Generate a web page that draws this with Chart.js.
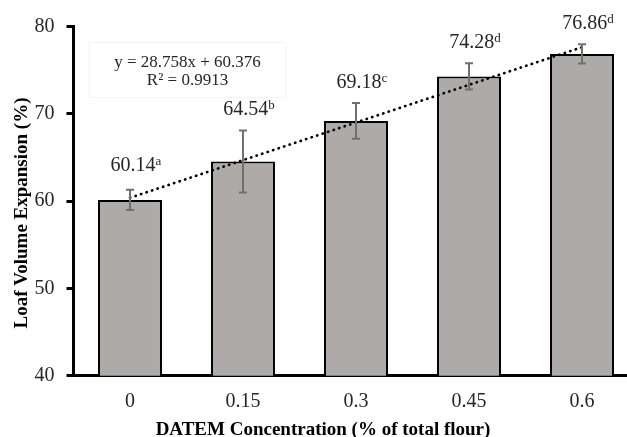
<!DOCTYPE html>
<html>
<head>
<meta charset="utf-8">
<title>Loaf Volume Expansion</title>
<script src="https://cdn.jsdelivr.net/npm/chart.js@4.4.1/dist/chart.umd.min.js"></script>
<style>
    html, body { margin: 0; padding: 0; background: #fff; overflow: hidden; }
    #wrap { width: 627px; height: 437px; overflow: hidden; }
    canvas { display: block; }
</style>
</head>
<body>
<div id="wrap">
    <canvas id="myChart" width="640" height="437"></canvas>
</div>
<script>
// values
const categories = ['0', '0.15', '0.3', '0.45', '0.6'];
const expansion = [60.14, 64.54, 69.18, 74.28, 76.86];
const errors = [1.15, 3.55, 2.05, 1.5, 1.1];
const letters = ['a', 'b', 'c', 'd', 'd'];
const trend = [60.38, null, null, null, 77.63];   // ends of the linear fit
const yTicks = [40, 50, 60, 70, 80];
const equation = ['y = 28.758x + 60.376', 'R² = 0.9913'];
const xTitle = 'DATEM Concentration (% of total flour)';
const yTitle = 'Loaf Volume Expansion (%)';

const serif = '"Liberation Serif", "Times New Roman", serif';

// error bars, value labels, equation box and axis titles
const extras = {
    id: 'extras',
    afterDatasetsDraw(chart) {
        let ctx = chart.ctx;
        let y = chart.scales.y;
        let meta = chart.getDatasetMeta(0);
        ctx.save();
        meta.data.forEach((bar, i) => {
            let top = y.getPixelForValue(expansion[i] + errors[i]);
            let bot = y.getPixelForValue(expansion[i] - errors[i]);
            ctx.strokeStyle = '#707070';
            ctx.lineWidth = 2;
            ctx.beginPath();
            ctx.moveTo(bar.x, top); ctx.lineTo(bar.x, bot);
            ctx.moveTo(bar.x - 4, top); ctx.lineTo(bar.x + 4, top);
            ctx.moveTo(bar.x - 4, bot); ctx.lineTo(bar.x + 4, bot);
            ctx.stroke();

            // label like 60.14 with superscript letter
            let main = expansion[i].toFixed(2);
            ctx.font = '20px ' + serif;
            let w1 = ctx.measureText(main).width;
            ctx.font = '13px ' + serif;
            let w2 = ctx.measureText(letters[i]).width;
            let x0 = bar.x - (w1 + w2) / 2 + 6;
            let base = top - (i === 0 ? 19 : 15);
            ctx.fillStyle = '#262626';
            ctx.textAlign = 'left';
            ctx.textBaseline = 'alphabetic';
            ctx.font = '20px ' + serif;
            ctx.fillText(main, x0, base);
            ctx.font = '13px ' + serif;
            ctx.fillText(letters[i], x0 + w1, base - 6);
        });
        ctx.restore();
    },
    afterDraw(chart) {
        let ctx = chart.ctx;
        let area = chart.chartArea;
        ctx.save();
        // equation box
        let bx = area.left + 15, by = area.top + 15.5;
        ctx.fillStyle = '#fff';
        ctx.strokeStyle = '#f4f4f4';
        ctx.lineWidth = 1;
        ctx.fillRect(bx, by, 197, 55);
        ctx.strokeRect(bx + 0.5, by + 0.5, 197, 55);
        ctx.fillStyle = '#262626';
        ctx.font = '17px ' + serif;
        ctx.textAlign = 'center';
        ctx.textBaseline = 'alphabetic';
        ctx.fillText(equation[0], bx + 99, by + 24.5);
        ctx.fillText(equation[1], bx + 99, by + 43);

        // axis titles
        ctx.fillStyle = '#000';
        ctx.font = 'bold 19px ' + serif;
        ctx.fillText(xTitle, 323, 435);
        ctx.translate(27, 213);
        ctx.rotate(-Math.PI / 2);
        ctx.fillText(yTitle, 0, 0);
        ctx.restore();
    }
};

function createChart() {
    let ctx = document.getElementById('myChart').getContext('2d');
    return new Chart(ctx, {
        type: 'bar',
        data: {
            labels: categories,
            datasets: [{
                type: 'bar',
                data: expansion,
                backgroundColor: '#AEAAAA',
                borderColor: '#000',
                borderWidth: 2,
                borderSkipped: 'bottom',
                categoryPercentage: 1,
                barPercentage: 0.566,
                order: 2
            }, {
                type: 'line',
                data: trend,
                spanGaps: true,
                borderColor: '#000',
                borderWidth: 2.7,
                borderDash: [0.3, 5.5],
                borderCapStyle: 'round',
                pointRadius: 0,
                fill: false,
                order: 1
            }]
        },
        options: {
            responsive: false,
            animation: false,
            layout: { padding: { top: 26.5, right: 1.5, bottom: 0, left: 0 } },
            plugins: {
                legend: { display: false },
                tooltip: { enabled: false }
            },
            scales: {
                x: {
                    offset: true,
                    grid: { display: false, drawTicks: false },
                    border: { display: true, color: '#000', width: 3 },
                    ticks: {
                        color: '#262626',
                        font: { family: serif, size: 20 },
                        padding: 14
                    },
                    afterFit(scale) { scale.height = 61.3; }
                },
                y: {
                    min: yTicks[0],
                    max: yTicks[yTicks.length - 1],
                    afterBuildTicks(scale) { scale.ticks = yTicks.map(v => ({ value: v })); },
                    grid: {
                        drawOnChartArea: false,
                        drawTicks: true,
                        tickLength: 7,
                        tickWidth: 3,
                        tickColor: '#000'
                    },
                    border: { display: true, color: '#000', width: 3 },
                    ticks: {
                        color: '#262626',
                        font: { family: serif, size: 20 },
                        padding: 12
                    },
                    afterFit(scale) { scale.width = 73.5; }
                }
            }
        },
        plugins: [extras]
    });
}

createChart();
</script>
</body>
</html>
